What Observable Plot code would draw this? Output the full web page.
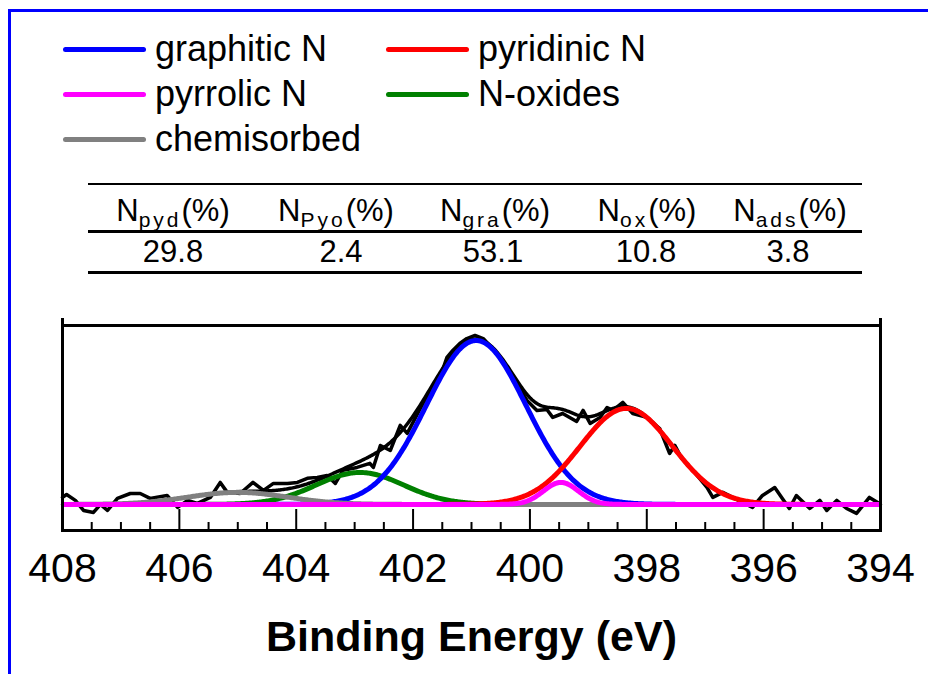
<!DOCTYPE html>
<html>
<head>
<meta charset="utf-8">
<script src="https://cdn.jsdelivr.net/npm/d3@7"></script>
<script src="https://cdn.jsdelivr.net/npm/@observablehq/plot@0.6"></script>
<style>
  body { margin: 0; background: #fff; }
  #wrap { position: relative; width: 928px; height: 674px; overflow: hidden; background: #fff; font-family: Arial, "Liberation Sans", sans-serif; }
  #border { position: absolute; left: 8px; top: 9px; width: 1000px; height: 1000px; border-left: 3px solid #0000ff; border-top: 3px solid #0000ff; }
  .lg-line { position: absolute; height: 5px; border-radius: 3px; width: 83px; }
  .lg-text { position: absolute; font-size: 36px; line-height: 1; white-space: nowrap; color: #000; }
  .rule { position: absolute; left: 88px; width: 774px; background: #000; }
  .cell { position: absolute; font-size: 31px; line-height: 1; white-space: nowrap; transform: translateX(-50%); color: #000; }
  .cell sub { font-size: 21px; letter-spacing: 3px; vertical-align: -6px; }
  #plot { position: absolute; left: 0; top: 300px; }
</style>
</head>
<body>
<div id="wrap">
  <div id="border"></div>
  <div id="legend"></div>
  <div id="table"></div>
  <div id="plot"></div>
</div>
<script>
// ---- Legend / components ----
const components = ["graphitic N", "pyridinic N", "pyrrolic N", "N-oxides", "chemisorbed"];
const colors = ["#0000ff", "#ff0000", "#ff00ff", "#008000", "#808080"];
// fitted peak parameters (eV, relative intensity, sigma eV)
const centers = [400.92, 398.35, 399.47, 402.91, 405.0];
const heights = [1.006, 0.589, 0.135, 0.196, 0.074];
const sigmas = [0.85, 0.79, 0.30, 0.75, 0.85];

// ---- Table ----
const tableHeads = [["N", "pyd"], ["N", "Pyo"], ["N", "gra"], ["N", "ox"], ["N", "ads"]];
const tableValues = ["29.8", "2.4", "53.1", "10.8", "3.8"];

// ---- Raw spectrum (binding energy eV, intensity) ----
const rawX = [408.00, 407.93, 407.78, 407.64, 407.47, 407.35, 407.23, 407.06, 406.84, 406.67, 406.50, 406.21, 406.03, 405.86, 405.69, 405.47, 405.30, 405.18, 404.96, 404.74, 404.56, 404.39, 404.15, 403.98, 403.81, 403.64, 403.47, 403.33, 403.20, 402.96, 402.74, 402.68, 402.56, 402.39, 402.22, 402.10, 401.83, 401.66, 401.54, 401.42, 401.32, 401.20, 401.08, 400.94, 400.80, 400.56, 400.29, 400.05, 399.88, 399.71, 399.61, 399.44, 399.20, 399.09, 398.97, 398.80, 398.68, 398.58, 398.41, 398.24, 398.00, 397.78, 397.61, 397.52, 397.40, 397.21, 396.97, 396.87, 396.70, 396.53, 396.36, 396.19, 396.02, 395.81, 395.68, 395.56, 395.44, 395.21, 395.04, 394.92, 394.75, 394.58, 394.41, 394.19, 394.02];
const rawY = [0.043, 0.061, 0.025, -0.037, -0.049, 0.0, -0.037, 0.037, 0.067, 0.067, 0.037, 0.055, -0.018, 0.025, 0.006, 0.043, 0.135, 0.074, 0.067, 0.135, 0.086, 0.129, 0.129, 0.135, 0.160, 0.166, 0.178, 0.129, 0.209, 0.227, 0.252, 0.227, 0.362, 0.331, 0.485, 0.436, 0.620, 0.718, 0.779, 0.902, 0.945, 0.988, 1.018, 1.037, 1.018, 0.926, 0.779, 0.638, 0.577, 0.583, 0.534, 0.558, 0.509, 0.577, 0.497, 0.534, 0.595, 0.577, 0.626, 0.558, 0.534, 0.466, 0.313, 0.362, 0.282, 0.209, 0.104, 0.043, 0.074, 0.043, 0.012, -0.018, 0.055, 0.104, 0.037, -0.025, 0.055, -0.025, 0.025, -0.037, 0.025, -0.025, -0.055, 0.043, 0.006];

// ---- Axis ticks ----
const majorTicks = [408, 406, 404, 402, 400, 398, 396, 394];
const minorTicks = d3.range(394, 408.01, 0.5).filter(t => !majorTicks.includes(t));
const xLabel = "Binding Energy (eV)";

// ---------- build legend ----------
const legend = document.getElementById("legend");
const lgPos = [[63, 49], [386, 49], [63, 94], [386, 94], [63, 139]];
components.forEach((name, i) => {
  const [x, y] = lgPos[i];
  const ln = document.createElement("div");
  ln.className = "lg-line";
  ln.style.left = x + "px"; ln.style.top = (y - 2.5) + "px"; ln.style.background = colors[i];
  legend.appendChild(ln);
  const tx = document.createElement("div");
  tx.className = "lg-text";
  tx.textContent = name;
  tx.style.left = (x + 92) + "px"; tx.style.top = (y + 12 - 30.5) + "px";
  legend.appendChild(tx);
});

// ---------- build table ----------
const table = document.getElementById("table");
[[183, 2], [230, 3], [271, 3]].forEach(([t, h]) => {
  const r = document.createElement("div");
  r.className = "rule"; r.style.top = t + "px"; r.style.height = h + "px";
  table.appendChild(r);
});
const headCenters = [173, 336, 495, 647, 790];
const valueCenters = [173, 341, 493, 646, 788];
tableHeads.forEach(([main, sub], i) => {
  const c = document.createElement("div");
  c.className = "cell";
  c.style.left = headCenters[i] + "px"; c.style.top = (221 - 26) + "px";
  c.innerHTML = `${main}<sub>${sub}</sub>(%)`;
  table.appendChild(c);
  const v = document.createElement("div");
  v.className = "cell";
  v.style.left = valueCenters[i] + "px"; v.style.top = (262 - 26) + "px";
  v.textContent = tableValues[i];
  table.appendChild(v);
});

// ---------- curves ----------
const grid = d3.range(394, 408.001, 0.02);
const compData = components.map((name, i) => grid.map(x => ({
  x, y: heights[i] * Math.exp(-((x - centers[i]) ** 2) / (2 * sigmas[i] ** 2)), name
})));
const envelope = grid.map((x, k) => ({x, y: d3.sum(compData, c => c[k].y)}));
const raw = rawX.map((x, i) => ({x, y: rawY[i]}));

const order = [3, 0, 1, 4, 2]; // green, blue, red, gray, magenta (top)

const chart = Plot.plot({
  width: 928,
  height: 374,
  marginLeft: 62,
  marginRight: 48,
  marginTop: 25,
  marginBottom: 144,
  style: {fontFamily: "Arial, 'Liberation Sans', sans-serif", background: "transparent", overflow: "visible"},
  x: {domain: [408, 394]},
  y: {domain: [-0.16, 1.098], axis: null},
  marks: [
    Plot.line(raw, {x: "x", y: "y", stroke: "#000", strokeWidth: 3.5, strokeLinejoin: "round"}),
    Plot.line(envelope, {x: "x", y: "y", stroke: "#000", strokeWidth: 3.5}),
    ...order.map(i => Plot.line(compData[i], {x: "x", y: "y", stroke: colors[i], strokeWidth: 5, strokeLinecap: "butt"})),
    Plot.tickX(minorTicks, {x: d => d, stroke: "#000", strokeWidth: 2, insetTop: 197}),
    Plot.tickX(majorTicks, {x: d => d, stroke: "#000", strokeWidth: 2, insetTop: 184}),
    Plot.frame({stroke: "#000", strokeWidth: 3}),
    Plot.ruleX([408, 394], {stroke: "#000", strokeWidth: 3, insetTop: -7}),
    Plot.axisX(majorTicks, {tickSize: 0, tickPadding: 22, fontSize: 41, label: null, tickFormat: d => String(d), fill: "#000"}),
    Plot.text([xLabel], {frameAnchor: "bottom", dy: 107, fontSize: 43, fontWeight: "bold", fill: "#000", lineAnchor: "middle"})
  ]
});
document.getElementById("plot").appendChild(chart);
</script>
</body>
</html>
